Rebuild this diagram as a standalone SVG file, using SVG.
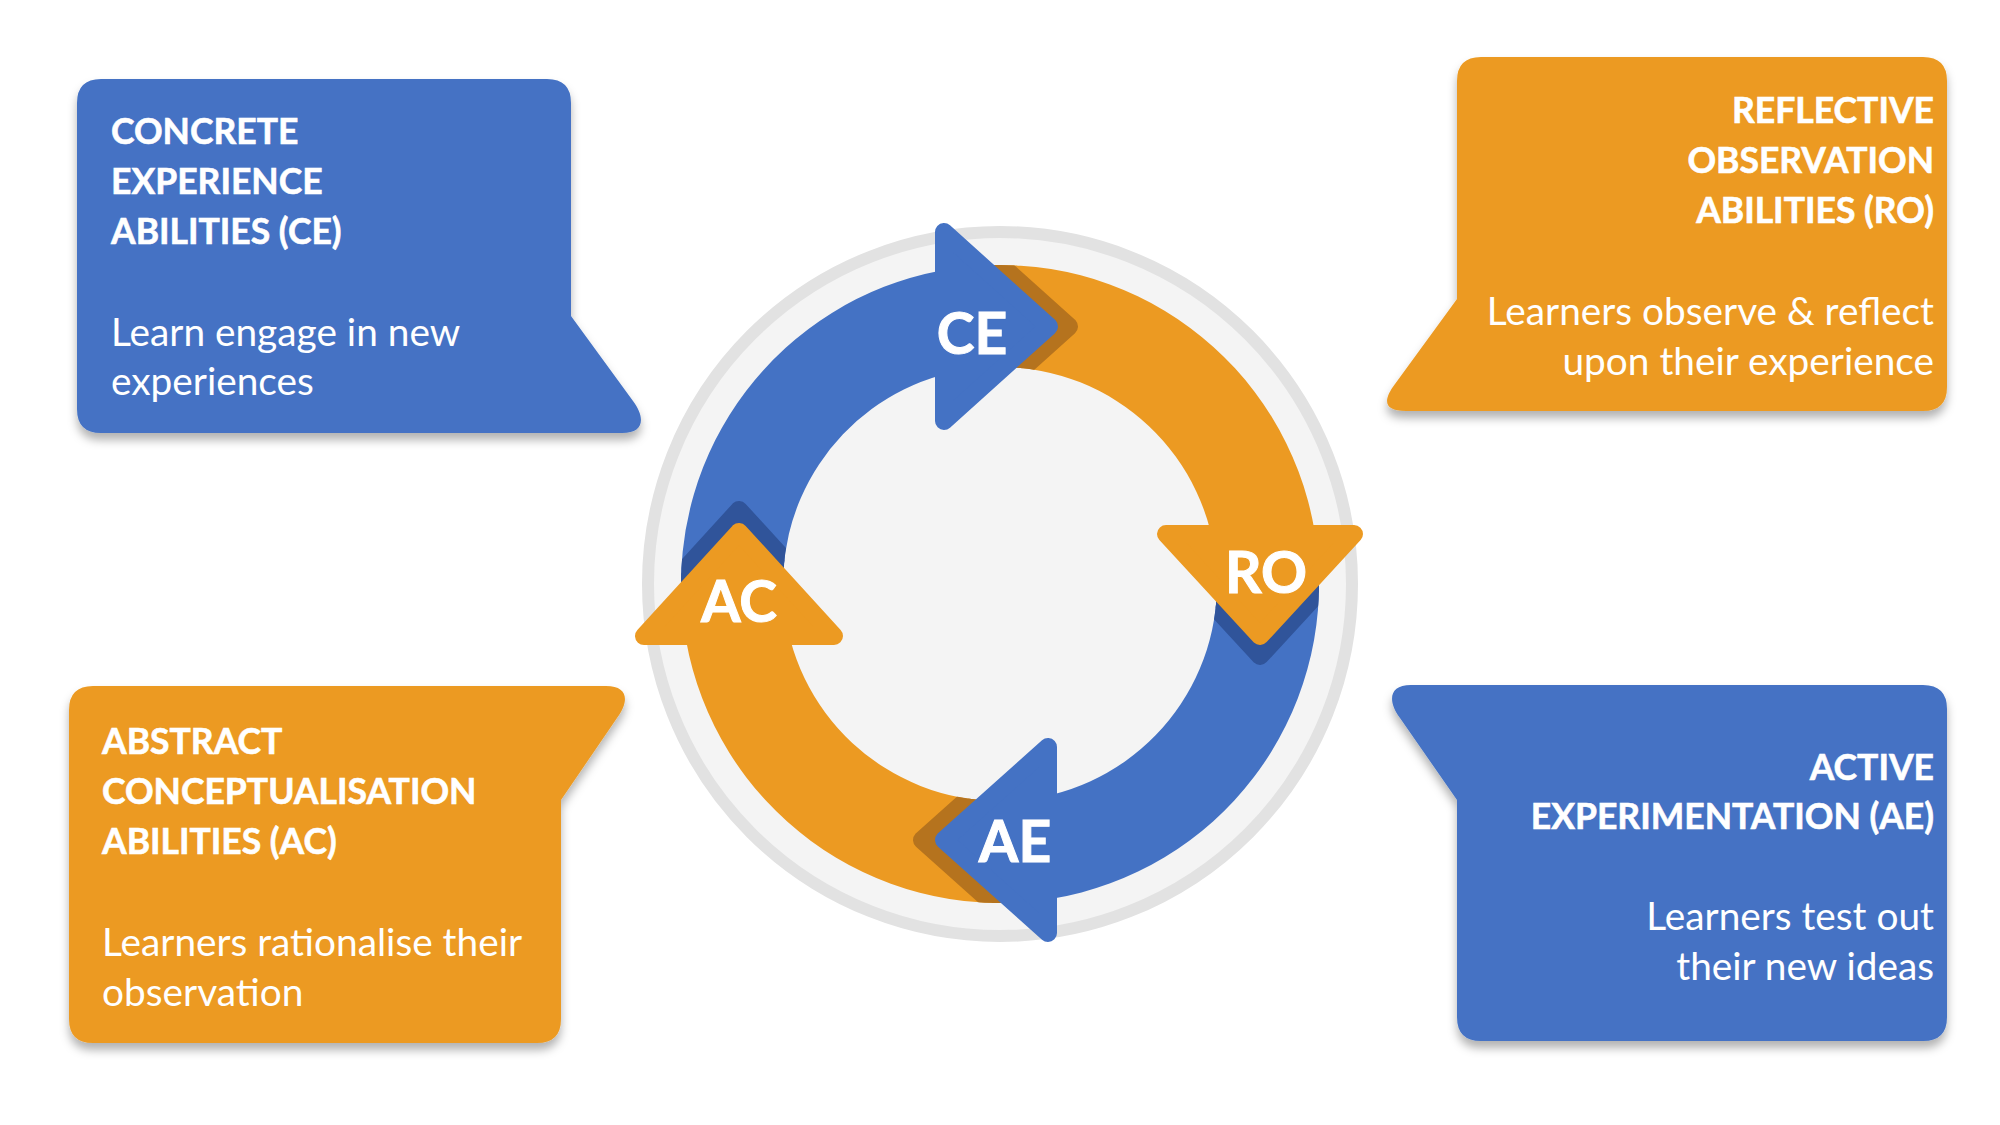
<svg xmlns="http://www.w3.org/2000/svg" width="2000" height="1125" viewBox="0 0 2000 1125">
  <defs>
    <filter id="shadow" x="-10%" y="-10%" width="120%" height="130%">
      <feDropShadow dx="0" dy="7" stdDeviation="5" flood-color="#000" flood-opacity="0.3"/>
    </filter>
    <clipPath id="band">
      <path clip-rule="evenodd" d="M681,584 A319,319 0 1,1 1319,584 A319,319 0 1,1 681,584 Z M783,584 A217,217 0 1,0 1217,584 A217,217 0 1,0 783,584 Z"/>
    </clipPath>
  </defs>
  <style>
    .blue { fill: #4472C4; }
    .orange { fill: #EC9A22; }
    .head-blue { fill: #4472C4; stroke: #4472C4; stroke-width: 18; stroke-linejoin: round; }
    .head-orange { fill: #EC9A22; stroke: #EC9A22; stroke-width: 18; stroke-linejoin: round; }
    .sh-blue { fill: #30549A; stroke: #30549A; stroke-width: 18; stroke-linejoin: round; }
    .sh-orange { fill: #B5731E; stroke: #B5731E; stroke-width: 18; stroke-linejoin: round; }
    .title { font-family: Lato, "Open Sans", sans-serif; font-weight: 700; font-size: 35.5px; fill: #fff; stroke: #fff; stroke-width: 0.6px; }
    .desc { font-family: Lato, "Open Sans", sans-serif; font-weight: 400; font-size: 38.8px; fill: #fff; }
    .lbl { font-family: Lato, "Open Sans", sans-serif; font-weight: 700; font-size: 57px; fill: #fff; stroke: #fff; stroke-width: 1px; text-anchor: middle; }
    .end { text-anchor: end; }
  </style>

  <rect width="2000" height="1125" fill="#ffffff"/>

  <g id="cycle-ring">
    <circle cx="1000" cy="584" r="352" fill="#F4F4F4" stroke="#E2E2E2" stroke-width="12"/>
  </g>

  <g id="connectors">
    <path id="arc-ac-ce" class="blue" d="M682.1,610 A319,319 0 0,1 940,270.7 L940,375.5 A217,217 0 0,0 784.6,610 Z"/>
    <path id="arc-ce-ro" class="orange" d="M960,267.5 A319,319 0 0,1 1314.4,530 L1210.2,530 A217,217 0 0,0 960,370.7 Z"/>
    <path id="arc-ro-ae" class="blue" d="M1317.2,550 A319,319 0 0,1 1052,898.7 L1052,794.7 A217,217 0 0,0 1214.3,550 Z"/>
    <path id="arc-ae-ac" class="orange" d="M1040,900.5 A319,319 0 0,1 686,640 L790.4,640 A217,217 0 0,0 1040,797.3 Z"/>
    <g clip-path="url(#band)">
      <polygon class="sh-orange" points="964,232 964,421 1069,326.5"/>
      <polygon class="sh-blue" points="1166,554 1354,554 1260,656"/>
      <polygon class="sh-orange" points="1026,747 1026,933 922,840"/>
      <polygon class="sh-blue" points="644,614 834,614 739,510"/>
    </g>
  </g>

  <g id="arrow-ce">
    <polygon class="head-blue" points="944,232 944,421 1049,326.5"/>
    <text class="lbl" x="972" y="354">CE</text>
  </g>
  <g id="arrow-ro">
    <polygon class="head-orange" points="1166,534 1354,534 1260,636"/>
    <text class="lbl" x="1266" y="593">RO</text>
  </g>
  <g id="arrow-ae">
    <polygon class="head-blue" points="1048,747 1048,933 944,840"/>
    <text class="lbl" x="1015" y="862">AE</text>
  </g>
  <g id="arrow-ac">
    <polygon class="head-orange" points="644,636 834,636 739,532"/>
    <text class="lbl" x="739" y="622">AC</text>
  </g>

  <g id="node-ce">
    <path class="blue" filter="url(#shadow)" d="M101,79 H547 Q571,79 571,103 V316 L633,401 C645,417 645,433 622,433 H101 Q77,433 77,409 V103 Q77,79 101,79 Z"/>
    <text class="title" x="111" y="144">CONCRETE</text>
    <text class="title" x="111" y="194">EXPERIENCE</text>
    <text class="title" x="111" y="244">ABILITIES (CE)</text>
    <text class="desc" x="111" y="346">Learn engage in new</text>
    <text class="desc" x="111" y="395">experiences</text>
  </g>

  <g id="node-ro">
    <path class="orange" filter="url(#shadow)" d="M1481,57 H1923 Q1947,57 1947,81 V387 Q1947,411 1923,411 H1406 C1383,411 1383,400 1395,384 L1457,299 V81 Q1457,57 1481,57 Z"/>
    <text class="title end" x="1934" y="123">REFLECTIVE</text>
    <text class="title end" x="1934" y="173">OBSERVATION</text>
    <text class="title end" x="1934" y="223">ABILITIES (RO)</text>
    <text class="desc end" x="1934" y="325">Learners observe &amp; reflect</text>
    <text class="desc end" x="1934" y="375">upon their experience</text>
  </g>

  <g id="node-ac">
    <path class="orange" filter="url(#shadow)" d="M93,686 H606 C629,686 629,702 617,718 L561,800 V1019 Q561,1043 537,1043 H93 Q69,1043 69,1019 V710 Q69,686 93,686 Z"/>
    <text class="title" x="102" y="754">ABSTRACT</text>
    <text class="title" x="102" y="804">CONCEPTUALISATION</text>
    <text class="title" x="102" y="854">ABILITIES (AC)</text>
    <text class="desc" x="102" y="956">Learners rationalise their</text>
    <text class="desc" x="102" y="1006">observation</text>
  </g>

  <g id="node-ae">
    <path class="blue" filter="url(#shadow)" d="M1923,685 H1411 C1388,685 1388,702 1400,718 L1457,800 V1017 Q1457,1041 1481,1041 H1923 Q1947,1041 1947,1017 V709 Q1947,685 1923,685 Z"/>
    <text class="title end" x="1934" y="780">ACTIVE</text>
    <text class="title end" x="1934" y="829">EXPERIMENTATION (AE)</text>
    <text class="desc end" x="1934" y="930">Learners test out</text>
    <text class="desc end" x="1934" y="980">their new ideas</text>
  </g>
</svg>
